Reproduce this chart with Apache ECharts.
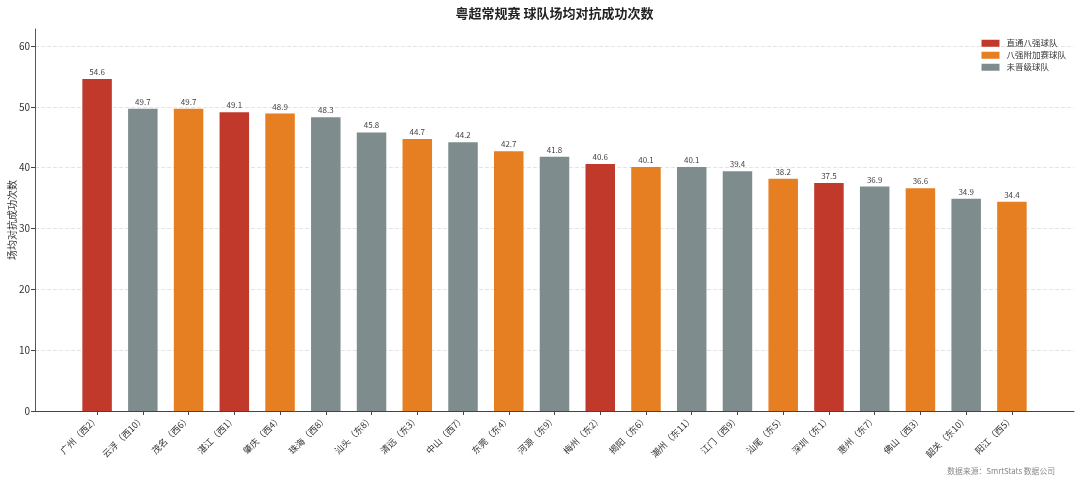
<!DOCTYPE html>
<html>
<head>
<meta charset="utf-8">
<title>粤超常规赛 球队场均对抗成功次数</title>
<script src="https://cdn.jsdelivr.net/npm/echarts@6.0.0/dist/echarts.min.js"></script>
<style>
  html, body { margin: 0; padding: 0; background: #fff; }
  #main { width: 1080px; height: 481px; }
</style>
</head>
<body>
<div id="main"></div>
<script>
    // 球队（赛区排名）
    var teams = ['广州（西2）', '云浮（西10）', '茂名（西6）', '湛江（西1）', '肇庆（西4）', '珠海（西8）',
        '汕头（东8）', '清远（东3）', '中山（西7）', '东莞（东4）', '河源（东9）', '梅州（东2）',
        '揭阳（东6）', '潮州（东11）', '江门（西9）', '汕尾（东5）', '深圳（东1）', '惠州（东7）',
        '佛山（西3）', '韶关（东10）', '阳江（西5）'];
    // 场均对抗成功次数
    var values = [54.6, 49.7, 49.7, 49.1, 48.9, 48.3, 45.8, 44.7, 44.2, 42.7, 41.8, 40.6,
        40.1, 40.1, 39.4, 38.2, 37.5, 36.9, 36.6, 34.9, 34.4];
    // 0 直通八强  1 八强附加赛  2 未晋级
    var tiers = [0, 2, 1, 0, 1, 2, 2, 1, 2, 1, 2, 0, 1, 2, 2, 1, 0, 2, 1, 2, 1];
    var tierNames = ['直通八强球队', '八强附加赛球队', '未晋级球队'];
    var tierColors = ['#c0392b', '#e67e22', '#7f8c8d'];
    var yTicks = [0, 10, 20, 30, 40, 50, 60];

    var FONT = '"Noto Sans CJK SC", "Noto Sans", sans-serif';
    var idx = teams.map(function (t, i) { return i; });

    // one series per tier so the legend works, bars overlap via barGap
    var series = tierNames.map(function (name, k) {
        var data = [];
        for (var i = 0; i < teams.length; i++) {
            if (tiers[i] === k) data.push([i, values[i]]);
        }
        return {
            name: name,
            type: 'bar',
            data: data,
            barWidth: 29.5,
            barGap: '-100%',
            itemStyle: { color: tierColors[k] },
            label: {
                show: true,
                position: 'top',
                distance: 3,
                fontSize: 8,
                fontFamily: FONT,
                color: '#444',
                formatter: function (p) { return p.value[1].toFixed(1); }
            }
        };
    });

    var myChart = echarts.init(document.getElementById('main'));
    myChart.setOption({
        animation: false,
        backgroundColor: '#fff',
        textStyle: { fontFamily: FONT },
        graphic: [
            {
                type: 'text', x: 554.5, y: 13,
                style: { text: '粤超常规赛 球队场均对抗成功次数', fontSize: 13, fontWeight: 'bold',
                    fontFamily: FONT, fill: '#222', align: 'center', verticalAlign: 'middle' }
            },
            {
                type: 'text', x: 1055, y: 471,
                style: { text: '数据来源：SmrtStats 数据公司', fontSize: 7.8, fontFamily: FONT,
                    fill: '#888', align: 'right', verticalAlign: 'middle' }
            }
        ],
        legend: {
            data: tierNames,
            orient: 'vertical',
            right: 9,
            top: 34,
            itemWidth: 18,
            itemHeight: 7,
            itemGap: 3.5,
            icon: 'rect',
            textStyle: { fontSize: 8.5, color: '#333', fontFamily: FONT, padding: [0, 0, 0, 2] }
        },
        grid: { left: 35, right: 6, top: 29, bottom: 70, containLabel: false, outerBoundsMode: 'none' },
        xAxis: {
            type: 'value',
            min: -1.3575,
            max: 21.3575,
            axisLine: { lineStyle: { color: '#444' } },
            axisTick: { show: true, length: 4, customValues: idx, lineStyle: { color: '#444' } },
            axisLabel: {
                customValues: idx,
                rotate: 45,
                fontSize: 9,
                margin: 6,
                color: '#333',
                formatter: function (v) { return teams[Math.round(v)]; }
            },
            splitLine: { show: false }
        },
        yAxis: {
            type: 'value',
            min: 0,
            max: 62.8,
            name: '场均对抗成功次数',
            nameLocation: 'middle',
            nameGap: 18,
            nameMoveOverlap: false,
            nameTextStyle: { fontSize: 10, color: '#333' },
            axisLine: { show: true, onZero: false, lineStyle: { color: '#555' } },
            axisTick: { show: true, length: 4, customValues: yTicks, lineStyle: { color: '#444' } },
            axisLabel: { customValues: yTicks, fontSize: 10, color: '#333', margin: 5 },
            splitLine: { show: true, lineStyle: { color: '#e4e4e4', type: 'dashed' } }
        },
        series: series
    });
</script>
</body>
</html>
